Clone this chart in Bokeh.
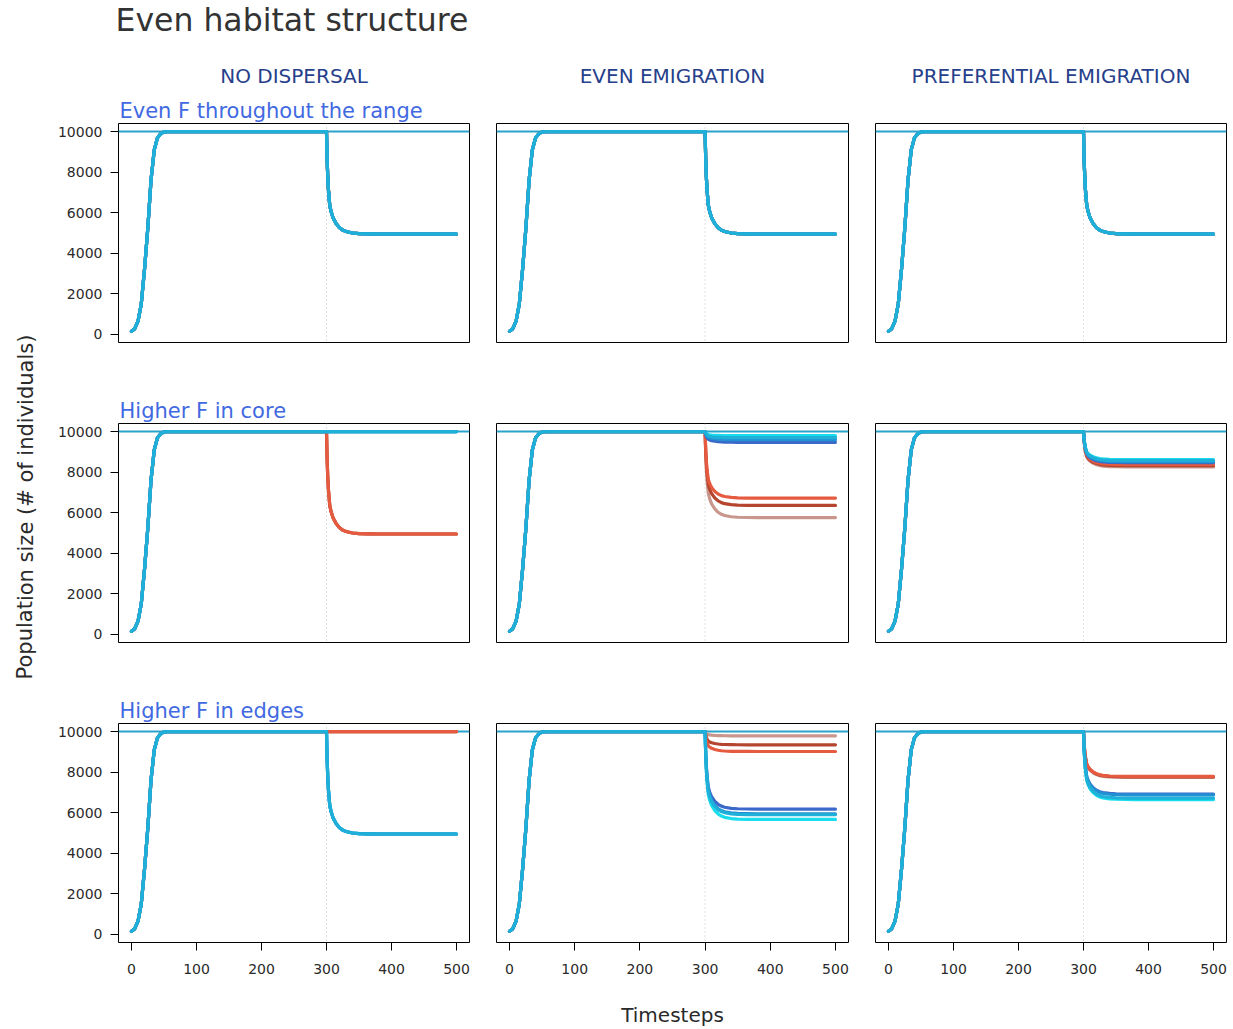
from bokeh.plotting import figure
from bokeh.layouts import row, column
from bokeh.models import Range1d, Span, FixedTicker
from bokeh.core.properties import value
from bokeh.embed import file_html
from bokeh.resources import INLINE

FONT = "DejaVu Sans"

# ---------------- data ----------------
main_title = "Even habitat structure"
col_titles = ["NO DISPERSAL", "EVEN EMIGRATION", "PREFERENTIAL EMIGRATION"]
row_titles = ["Even F throughout the range", "Higher F in core", "Higher F in edges"]
x_label = "Timesteps"
y_label = "Population size (# of individuals)"

x_ticks = [0, 100, 200, 300, 400, 500]
y_ticks = [0, 2000, 4000, 6000, 8000, 10000]

carrying_capacity = 10000
fishing_start = 300

# common logistic growth phase
growth_t = [0, 5, 10, 15, 20, 25, 30, 35, 40, 45, 50, 55, 60, 300]
growth_n = [150, 280, 650, 1500, 3200, 5200, 7600, 9100, 9700, 9900, 9980, 10000, 10000, 10000]

# decline after fishing starts: share of the drop still remaining
decline_t = [300, 301, 302, 303, 305, 307, 310, 315, 320, 325, 330, 340, 350, 365, 380, 500]
decline_remaining = [1.0, 0.72, 0.55, 0.43, 0.28, 0.22, 0.16, 0.10, 0.062, 0.038,
                     0.024, 0.010, 0.004, 0.001, 0.0, 0.0]

red_colors = ["#c8968c", "#b5452f", "#e65a3f"]            # rosy, brown, tomato
blue_colors = ["#3a69c9", "#19dcec", "#2290d2", "#1eb0d8"]  # royal, cyan, medium, light

# equilibrium sizes after t = 300, per panel [row][col]
final_red = [
    [[4950, 4950, 4950], [4950, 4950, 4950], [4950, 4950, 4950]],
    [[4950, 4950, 4950], [5760, 6360, 6720], [8260, 8320, 8380]],
    [[10000, 10000, 10000], [9790, 9350, 9020], [7740, 7770, 7790]],
]
final_blue = [
    [[4950, 4950, 4950, 4950], [4950, 4950, 4950, 4950], [4950, 4950, 4950, 4950]],
    [[10000, 10000, 10000, 10000], [9470, 9800, 9600, 9700], [8470, 8620, 8520, 8570]],
    [[4950, 4950, 4950, 4950], [6180, 5670, 5950, 5900], [6920, 6650, 6880, 6720]],
]

# ---------------- layout constants ----------------
col_frame_w = [351, 352, 351]
col_border_l = [68, 14, 14]
col_border_r = [13, 13, 7]
frame_h = 219
left_w = 50
header_h = 88
strip_h = 34
footer_h = 42
TXT = "#2a2a2a"


def blank(w, h, xr, yr):
    p = figure(frame_width=w, frame_height=h, min_border=0,
               min_border_left=0, min_border_right=0, min_border_top=0, min_border_bottom=0,
               x_range=xr, y_range=yr, toolbar_location=None,
               x_axis_location=None, y_axis_location=None,
               outline_line_color=None, output_backend="svg")
    p.grid.grid_line_color = None
    return p


def series(final):
    t = growth_t + decline_t[1:]
    n = growth_n + [final + (carrying_capacity - final) * r for r in decline_remaining[1:]]
    return t, n


def panel(r, c):
    bottom = (r == 2)
    left = (c == 0)
    p = figure(frame_width=col_frame_w[c], frame_height=frame_h,
               min_border_left=col_border_l[c], min_border_right=col_border_r[c],
               min_border_top=1, min_border_bottom=45 if bottom else 46,
               x_range=Range1d(-20, 520), y_range=Range1d(-400, 10400),
               toolbar_location=None,
               x_axis_location="below" if bottom else None,
               y_axis_location="left" if left else None,
               output_backend="svg",
               outline_line_color="black", outline_line_width=1, outline_line_alpha=1)
    p.grid.grid_line_color = None
    p.background_fill_color = "white"
    p.border_fill_color = "white"
    for ax in p.axis:
        ax.axis_line_color = None
        ax.major_tick_in = 0
        ax.major_tick_out = 8
        ax.major_tick_line_color = "black"
        ax.minor_tick_line_color = None
        ax.major_label_text_font = FONT
        ax.major_label_text_font_size = "14px"
        ax.major_label_text_color = TXT
        ax.major_label_standoff = 8
    if bottom:
        p.xaxis.ticker = FixedTicker(ticks=x_ticks)
        p.xaxis.major_label_standoff = 13
    if left:
        p.yaxis.ticker = FixedTicker(ticks=y_ticks)
        p.yaxis.major_label_orientation = "horizontal"

    p.add_layout(Span(location=fishing_start, dimension="height", line_color="#bdbdbd",
                      line_dash="1 3", line_width=1, level="underlay"))
    p.add_layout(Span(location=carrying_capacity, dimension="width", line_color="#2aa3cc",
                      line_width=2, level="underlay"))

    for final, color in zip(final_red[r][c], red_colors):
        t, n = series(final)
        p.line(t, n, line_color=color, line_width=3.2, line_join="round", line_cap="round")
    for final, color in zip(final_blue[r][c], blue_colors):
        t, n = series(final)
        p.line(t, n, line_color=color, line_width=3.2, line_join="round", line_cap="round")
    return p


# header
header = blank(1233, header_h, Range1d(0, 1233), Range1d(header_h, 0))
header.text(x=[115], y=[19.5], text=[main_title], text_font=value(FONT),
            text_font_size="31.5px", text_color="#333333", text_align="left",
            text_baseline="middle")
col_centers = [293.5, 672, 1050.5]
header.text(x=col_centers, y=[75, 75, 75], text=col_titles, text_font=value(FONT),
            text_font_size="20px", text_color="#27408B", text_align="center",
            text_baseline="middle")

grid_w = 1233 - left_w
rows = []
for r in range(3):
    strip = blank(grid_w, strip_h, Range1d(0, grid_w), Range1d(strip_h, 0))
    strip.text(x=[69], y=[22], text=[row_titles[r]], text_font=value(FONT),
               text_font_size="21px", text_color="#4169E1", text_align="left",
               text_baseline="middle")
    rows.append(strip)
    rows.append(row([panel(r, c) for c in range(3)], spacing=0))
grid = column(rows, spacing=0)

grid_h = 3 * strip_h + 2 * (1 + frame_h + 46) + (1 + frame_h + 45)
left = blank(left_w, grid_h, Range1d(0, left_w), Range1d(grid_h, 0))
left.text(x=[25], y=[506.5 - header_h], text=[y_label], text_font=value(FONT),
          text_font_size="21px", text_color=TXT, text_align="center",
          text_baseline="middle", angle=1.5707963)

footer = blank(1233, footer_h, Range1d(0, 1233), Range1d(footer_h, 0))
footer.text(x=[672], y=[27], text=[x_label], text_font=value(FONT),
            text_font_size="20px", text_color=TXT, text_align="center",
            text_baseline="middle")

layout = column([header, row([left, grid], spacing=0), footer], spacing=0)

open("out.html", "w").write(file_html(layout, INLINE))
